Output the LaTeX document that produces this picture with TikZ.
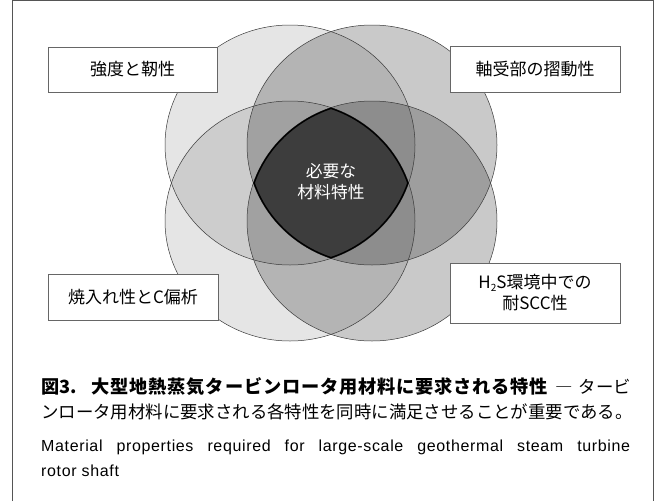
\documentclass[tikz,border=0pt]{standalone}
\usepackage{fontspec}
\setmainfont{Noto Sans CJK JP}
\newfontfamily\enfont[LetterSpace=4]{Liberation Sans}
\definecolor{framecol}{HTML}{555555}
\definecolor{boxcol}{HTML}{666666}
\definecolor{linecol}{HTML}{3A3A3A}
\definecolor{corecol}{HTML}{3D3D3D}
\tikzset{
  x=1pt, y=-1pt,
  lightell/.style={fill=black, fill opacity=0.10},
  darkell/.style={fill=black, fill opacity=0.21},
  ellline/.style={draw=linecol, line width=0.5pt},
  labelbox/.style={draw=boxcol, line width=0.9pt, fill=white, inner sep=0pt, align=center,
    font=\fontsize{17}{21}\selectfont},
  corelabel/.style={text=white, align=center, inner sep=0pt, font=\fontsize{16.8}{21}\selectfont},
  captxt/.style={anchor=west, inner sep=0pt}
}
\newcommand{\ellTL}{(290,145) ellipse [x radius=125pt, y radius=120pt]}
\newcommand{\ellTR}{(372,145) ellipse [x radius=125pt, y radius=120pt]}
\newcommand{\ellBL}{(290,221) ellipse [x radius=125pt, y radius=120pt]}
\newcommand{\ellBR}{(372,221) ellipse [x radius=125pt, y radius=120pt]}
\begin{document}
\begin{tikzpicture}
\useasboundingbox (0,0) rectangle (659,501);
\fill[white] (0,0) rectangle (659,501);
% frame
\draw[framecol, line width=1pt] (12.5,501) -- (12.5,0.5) -- (653,0.5) -- (653,501);
% ellipse fills
\fill[lightell] \ellTL;
\fill[lightell] \ellBL;
\fill[darkell] \ellTR;
\fill[darkell] \ellBR;
% outlines
\draw[ellline] \ellTL;
\draw[ellline] \ellBL;
\draw[ellline] \ellTR;
\draw[ellline] \ellBR;
% core intersection
\begin{scope}
  \clip \ellTL;
  \clip \ellTR;
  \clip \ellBL;
  \clip \ellBR;
  \fill[corecol] (150,0) rectangle (520,360);
  \draw[black, line width=2.8pt] \ellTL;
  \draw[black, line width=2.8pt] \ellTR;
  \draw[black, line width=2.8pt] \ellBL;
  \draw[black, line width=2.8pt] \ellBR;
\end{scope}
\node[corelabel] (core) at (331,182) {必要な\\材料特性};
% label boxes
\node[labelbox, minimum width=169pt, minimum height=45pt] (b1) at (132.5,69.5) {強度と靭性};
\node[labelbox, minimum width=170pt, minimum height=46pt] (b2) at (535,69) {軸受部の摺動性};
\node[labelbox, minimum width=170pt, minimum height=46pt] (b3) at (133,297) {焼入れ性とC偏析};
\node[labelbox, minimum width=170pt, minimum height=60pt] (b4) at (535,293)
  {H\raisebox{-0.3ex}{\fontsize{10}{10}\selectfont 2}S環境中での\\耐SCC性};
% caption
\node[captxt] (c1) at (41,387) {\makebox[590pt][l]{\fontsize{18.2}{20}\selectfont\bfseries 図3.\hspace{15pt}{\addfontfeature{LetterSpace=4.5}大型地熱蒸気タービンロータ用材料に要求される特性}\hfill{\mdseries\fontsize{17.4}{20}\selectfont ―\hspace{6pt}タービ}}};
\node[captxt] (c2) at (41,412) {\makebox[590pt][l]{\fontsize{17.4}{20}\selectfont ンロータ用材料に要求される各特性を同時に満足させることが重要である。}};
\node[captxt] (c3) at (41,447) {\makebox[589pt][s]{\enfont\fontsize{16}{18}\selectfont Material properties required for large-scale geothermal steam turbine}};
\node[captxt] (c4) at (41,471) {\enfont\fontsize{16}{18}\selectfont rotor shaft};
\end{tikzpicture}
\end{document}
